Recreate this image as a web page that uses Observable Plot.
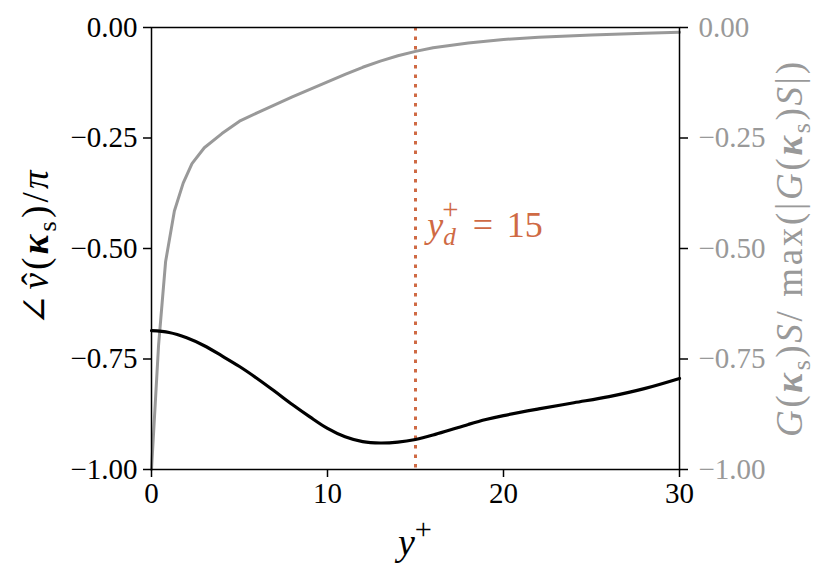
<!DOCTYPE html>
<html><head><meta charset="utf-8">
<script src="https://cdn.jsdelivr.net/npm/d3@7"></script>
<script src="https://cdn.jsdelivr.net/npm/@observablehq/plot@0.6"></script>
<style>
body{margin:0;background:#fff;}
svg{font-family:"Liberation Serif",serif;}
</style></head>
<body><div id="chart"></div>
<script>
// Black curve: phase angle of v-hat / pi vs y+
const phaseY = [0,1,2,3,4,5,6,7,8,9,10,11,12,13,14,15,16,17,18,19,20,22,24,26,28,30];
const phaseV = [-0.686,-0.690,-0.702,-0.720,-0.743,-0.767,-0.794,-0.823,-0.853,-0.881,-0.907,-0.926,-0.937,-0.940,-0.938,-0.932,-0.922,-0.910,-0.898,-0.887,-0.878,-0.863,-0.849,-0.835,-0.817,-0.794];
// Gray curve: normalised G S vs y+
const gainY = [0,0.4,0.8,1.3,1.8,2.3,3,4,5,6,7,8,9,10,11,12,13,14,15,16,18,20,22,25,28,30];
const gainV = [-1.0,-0.72,-0.53,-0.415,-0.352,-0.308,-0.272,-0.240,-0.212,-0.193,-0.175,-0.157,-0.140,-0.123,-0.106,-0.090,-0.076,-0.064,-0.054,-0.046,-0.035,-0.027,-0.022,-0.017,-0.013,-0.011];
const xTicks = [0,10,20,30];
const yTicks = [0,-0.25,-0.5,-0.75,-1.0];
const yDetect = [15];

const phase = phaseY.map((x,i)=>({x, v:phaseV[i]}));
const gain = gainY.map((x,i)=>({x, v:gainV[i]}));
const fmt = d => (d===0 ? "0.00" : d.toFixed(2).replace("-", "\u2212"));
const gray = "#999999";
const orange = "#cf6a44";

const chart = Plot.plot({
  width: 830, height: 576,
  marginLeft: 151, marginRight: 151, marginTop: 27, marginBottom: 107,
  style: {fontFamily: "Liberation Serif, serif", background: "#fff"},
  x: {domain: [0,30]},
  y: {domain: [-1,0]},
  marks: [
    Plot.ruleX(yDetect, {stroke: orange, strokeWidth: 3, strokeDasharray: "3.5,6"}),
    Plot.line(gain, {x:"x", y:"v", stroke: gray, strokeWidth: 3}),
    Plot.line(phase, {x:"x", y:"v", stroke: "black", strokeWidth: 3.2, curve: "catmull-rom"}),
    Plot.frame({stroke: "black", strokeWidth: 1.5}),
    Plot.axisX({ticks: xTicks, tickSize: 8, tickPadding: 5, strokeWidth: 1.5, label: null, tickFormat: d => String(d), color: "black"}),
    Plot.axisY({anchor: "left", ticks: yTicks, tickSize: 8, tickPadding: 6, strokeWidth: 1.5, label: null, tickFormat: fmt, color: "black"}),
    Plot.axisY({anchor: "right", ticks: yTicks, tickSize: 8, strokeWidth: 1.5, label: null, tickFormat: () => "", color: "black"}),
    Plot.axisY({anchor: "right", ticks: yTicks, tickSize: 0, tickPadding: 19, label: null, tickFormat: fmt, color: gray})
  ]
});
document.getElementById("chart").appendChild(chart);

const svg = d3.select(chart);
svg.selectAll('g[aria-label*="tick label"] text').style("font-size", "29px").style("font-family", "Liberation Serif, serif");
const xs = chart.scale("x"), ys = chart.scale("y");

function rich(g, parts, size){
  parts.forEach(p=>{
    const t = g.append("tspan").text(p.t);
    if (p.i) t.attr("font-style","italic");
    if (p.b) t.attr("font-weight","bold");
    if (p.small) t.attr("font-size", size*(p.small === true ? 0.7 : p.small));
    if (p.font) t.attr("font-family", p.font);
    if (p.dy != null) t.attr("dy", p.dy*size);
    if (p.dx != null) t.attr("dx", p.dx*size);
  });
}

// x label
const xl = svg.append("text").attr("x", xs.apply(15)).attr("y", 555).attr("text-anchor","middle").attr("font-size",38).attr("fill","black");
rich(xl, [{t:"y", i:true},{t:"+", small:0.8, dy:-0.42}], 38);

// left y label
const yl = svg.append("text").attr("transform","translate(48,248) rotate(-90)").attr("text-anchor","middle").attr("font-size",37).attr("fill","black")
  .attr("textLength",155).attr("lengthAdjust","spacing");
rich(yl, [{t:"\u2220", font:"DejaVu Serif"},{t:"v", i:true, dx:0.05},{t:"\u02C6", dx:-0.42},{t:"("},{t:"\u03BA", i:true, b:true},{t:"s", small:true, dy:0.22},{t:")", dy:-0.22},{t:"/"},{t:"\u03C0", i:true}], 37);

// right y label
const yr = svg.append("text").attr("transform","translate(802,249.5) rotate(-90)").attr("text-anchor","middle").attr("font-size",37).attr("fill",gray)
  .attr("textLength",375).attr("lengthAdjust","spacing");
rich(yr, [{t:"G", i:true},{t:"("},{t:"\u03BA", i:true, b:true},{t:"s", small:true, dy:0.22},{t:")", dy:-0.22},{t:"S", i:true},{t:"/ max(|"},{t:"G", i:true},{t:"("},{t:"\u03BA", i:true, b:true},{t:"s", small:true, dy:0.22},{t:")", dy:-0.22},{t:"S", i:true},{t:"|)"}], 37);

// annotation
const an = svg.append("text").attr("x", xs.apply(15.7)).attr("y", ys.apply(-0.475)).attr("text-anchor","start").attr("font-size",36).attr("fill",orange);
rich(an, [{t:"y", i:true},{t:"d", i:true, small:true, dy:0.22},{t:"+", small:0.8, dx:-0.38, dy:-0.72},{t:"=", dx:0.4, dy:0.5},{t:"15", dx:0.38}], 36);
</script>
</body></html>
